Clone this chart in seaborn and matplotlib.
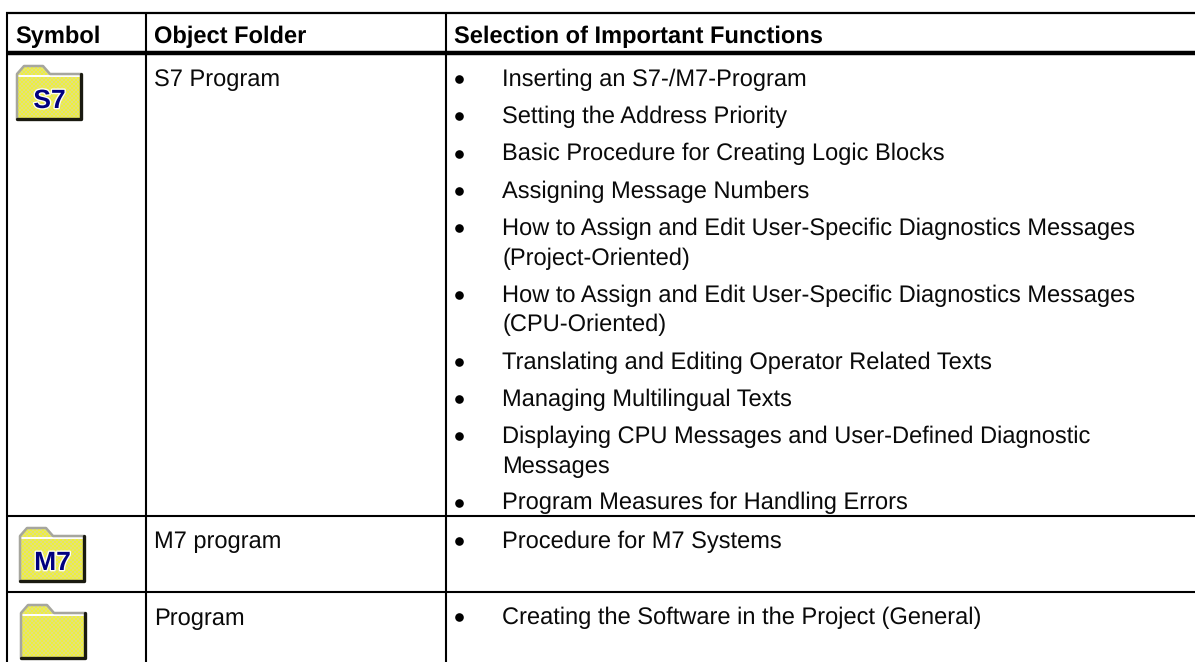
import matplotlib
matplotlib.use("Agg")
import matplotlib.pyplot as plt
import matplotlib.patheffects as pe
import numpy as np
import seaborn as sns
from matplotlib.patches import Polygon

sns.set_theme(style="white")
plt.rcParams['font.family'] = ['Liberation Sans', 'DejaVu Sans']
plt.rcParams['text.hinting'] = 'no_hinting'

headers = ["Symbol", "Object Folder", "Selection of Important Functions"]
folders = ["S7 Program", "M7 program", "Program"]
symbols = ["S7", "M7", ""]
functions_s7 = [
    ["Inserting an S7-/M7-Program"],
    ["Setting the Address Priority"],
    ["Basic Procedure for Creating Logic Blocks"],
    ["Assigning Message Numbers"],
    ["How to Assign and Edit User-Specific Diagnostics Messages", "(Project-Oriented)"],
    ["How to Assign and Edit User-Specific Diagnostics Messages", "(CPU-Oriented)"],
    ["Translating and Editing Operator Related Texts"],
    ["Managing Multilingual Texts"],
    ["Displaying CPU Messages and User-Defined Diagnostic", "Messages"],
    ["Program Measures for Handling Errors"],
]
functions_m7 = [["Procedure for M7 Systems"]]
functions_prog = [["Creating the Software in the Project (General)"]]

W, H = 1195, 662
FS = 17
INK = "#0a0a0a"


def draw_folder(ax, x, y, label):
    # x, y = top left corner of the icon, about 64x54 px
    w, h = 64, 54
    outline = [(x, y + h), (x, y + 9), (x + 7, y + 1), (x + 26, y + 1), (x + 33, y + 9), (x + w, y + 9), (x + w, y + h)]
    poly = Polygon(outline, closed=True, fc="none", ec="none")
    ax.add_patch(poly)
    # dithered yellow, blocks of 2 px so it does not alias away
    checker = np.indices((h // 2, w // 2)).sum(axis=0) % 2
    rgb = np.where(checker[..., None] == 0, [0.94, 0.94, 0.24], [0.88, 0.88, 0.50])
    im = ax.imshow(rgb, extent=(x, x + w, y + h, y), interpolation="nearest", zorder=2)
    im.set_clip_path(poly)
    ax.plot([x + 2, x + w - 1], [y + 11, y + 11], color="white", lw=1.4, zorder=3)
    ax.plot([x, x, x + 7, x + 26, x + 33, x + w], [y + h, y + 9, y + 1, y + 1, y + 9, y + 9],
            color="#a6a69e", lw=1.8, zorder=3)
    ax.plot([x + w, x + w, x], [y + 9, y + h, y + h], color="#1a1a10", lw=2.4, zorder=3)
    if label:
        ax.text(x + w / 2 + 0.5, y + 43, label, color="#000080", fontsize=19, fontweight="bold",
                ha="center", va="baseline", zorder=5,
                path_effects=[pe.withStroke(linewidth=2, foreground="#fffff0")])


def draw_items(ax, items, baselines):
    # baselines holds one y per printed line, wrapped items just use more of them
    pos = 0
    for item in items:
        ax.plot(459.5, baselines[pos] - 7, "o", ms=6.2, color="black", mew=0)
        for line in item:
            ax.text(502.5, baselines[pos], line, fontsize=FS, va="baseline", color=INK)
            pos += 1


fig = plt.figure(figsize=(W / 100, H / 100), dpi=100)
ax = fig.add_axes([0, 0, 1, 1])

# table rules
ax.hlines(12.5, 6, W, color="black", lw=1.6)
ax.hlines(52.5, 6, W, color="black", lw=3.2)
ax.hlines([516, 592], 6, W, color="black", lw=1.5)
ax.vlines([7, 146, 446], 12, H, color="black", lw=1.5)

for x, t in zip([15, 154.5, 454.5], headers):
    ax.text(x, 43, t, fontsize=FS, fontweight="bold", color="black", va="baseline")

for y, t in zip([86, 548, 625], folders):
    ax.text(154, y, t, fontsize=FS, color=INK, va="baseline")

for (x, y), s in zip([(17, 65), (20, 527), (21, 604)], symbols):
    draw_folder(ax, x, y, s)

draw_items(ax, functions_s7, [86, 123, 160.5, 198, 235, 265, 302, 331, 369, 406, 443, 473, 509.5])
draw_items(ax, functions_m7, [548])
draw_items(ax, functions_prog, [624])

ax.set_xlim(0, W)
ax.set_ylim(H, 0)
ax.set_aspect("auto")
ax.axis("off")
fig.savefig("out.png", dpi=100, facecolor="white")
